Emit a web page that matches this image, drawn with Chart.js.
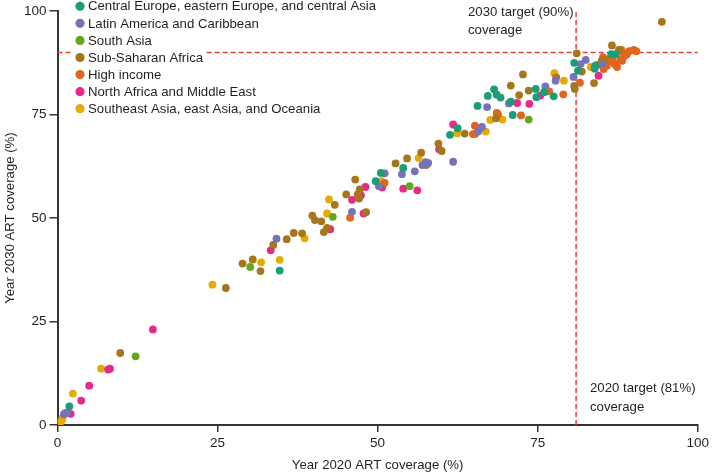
<!DOCTYPE html>
<html><head><meta charset="utf-8">
<script src="https://cdn.jsdelivr.net/npm/chart.js@4.4.1/dist/chart.umd.min.js"></script>
<style>html,body{margin:0;padding:0;background:#fff;} #wrap{width:712px;height:475px;position:relative;}</style>
</head><body><div id="wrap"><canvas id="c" width="712" height="475"></canvas></div>
<script>
const regionNames = [
  'Central Europe, eastern Europe, and central Asia',
  'Latin America and Caribbean',
  'South Asia',
  'Sub-Saharan Africa',
  'High income',
  'North Africa and Middle East',
  'Southeast Asia, east Asia, and Oceania'
];
const regionColors = ['#1b9e77', '#7773b8', '#66a61e', '#a6761d', '#e0651f', '#e7298a', '#e6ab02'];

const xTicks = [0, 25, 50, 75, 100];
const yTicks = [0, 25, 50, 75, 100];
const target2020 = 81;
const target2030 = 90;
const xTitle = 'Year 2020 ART coverage (%)';
const yTitle = 'Year 2030 ART coverage (%)';

const centralEurope = [[1.85,4.5],[34.7,37.3],[49.7,58.9],[50.5,60.9],[54.0,62.1],[61.3,70.1],[62.5,71.7],[65.6,77.1],[67.2,79.5],[68.2,81.1],[68.6,79.8],[69.2,79.1],[70.8,78.1],[71.1,74.9],[74.7,81.2],[74.8,79.2],[76.0,80.4],[77.5,79.4],[80.7,87.5],[81.3,85.6],[84.0,86.8],[83.9,86.1],[86.5,89.6],[87.2,89.6]];
const latinAmerica = [[1.0,2.6],[1.3,2.9],[1.5,3.0],[1.2,2.8],[34.2,45.0],[46.0,51.5],[51.1,60.8],[50.2,57.7],[53.8,60.6],[55.8,61.3],[57.0,62.8],[57.5,63.5],[57.9,63.3],[61.8,63.6],[65.7,70.9],[66.3,72.0],[67.1,76.8],[70.5,77.7],[76.2,81.8],[77.8,83.2],[80.6,84.1],[81.7,87.2],[82.5,88.2],[85.1,87.2]];
const southAsia = [[12.2,16.6],[30.1,38.2],[43.0,50.3],[55.0,57.7],[73.6,73.8]];
const subSaharan = [[9.8,17.4],[26.3,33.1],[28.9,39.0],[30.5,40.0],[31.7,37.2],[33.7,43.5],[35.8,44.9],[36.9,46.4],[38.2,46.3],[39.8,50.6],[40.2,49.5],[41.2,49.2],[41.6,46.6],[42.1,47.6],[43.3,53.2],[45.1,55.7],[46.5,59.3],[47.2,56.9],[46.9,55.7],[47.1,54.7],[48.2,51.4],[52.8,63.2],[54.6,64.4],[56.8,65.8],[57.6,62.8],[59.5,68.0],[60.0,66.2],[63.6,70.4],[68.5,74.1],[70.8,82.0],[72.1,79.7],[72.7,84.7],[73.6,80.8],[77.9,84.0],[80.7,81.9],[80.8,81.2],[81.1,89.8],[81.9,85.4],[83.8,82.6],[85.5,88.2],[85.0,88.0],[86.6,91.7],[87.7,90.6],[94.4,97.4]];
const highIncome = [[45.7,50.1],[51.1,58.5],[64.9,70.3],[65.2,70.3],[65.2,72.3],[68.6,75.4],[68.8,75.1],[72.4,74.8],[76.8,80.6],[79.0,79.9],[81.6,82.7],[84.3,87.0],[85.3,86.0],[85.2,88.9],[85.8,86.8],[86.0,87.8],[86.7,88.0],[87.0,87.2],[87.4,86.5],[86.2,88.5],[88.1,90.6],[88.4,89.7],[88.6,89.2],[88.2,88.0],[89.3,90.3],[90.4,90.3],[88.9,89.5],[87.9,88.2],[90.0,90.6]];
const northAfrica = [[14.9,23.1],[7.9,13.4],[8.2,13.6],[4.95,9.5],[3.7,5.9],[2.05,2.7],[33.3,42.2],[42.6,47.3],[46.0,54.4],[47.4,55.5],[48.1,57.5],[47.8,51.1],[50.7,57.4],[54.0,57.1],[56.2,56.7],[59.6,66.6],[61.8,72.6],[71.8,77.8],[73.7,77.6],[75.4,79.6],[84.5,84.4]];
const southeastAsia = [[0.7,1.2],[0.5,0.8],[0.8,1.7],[6.8,13.6],[2.4,7.6],[24.2,33.9],[31.8,39.3],[34.7,39.9],[38.6,45.1],[42.1,51.1],[42.4,54.5],[50.6,58.9],[56.4,64.5],[62.4,70.5],[66.9,70.9],[67.6,73.7],[69.5,73.8],[77.6,85.0],[79.1,83.2],[83.3,86.5]];

const seriesData = [centralEurope, latinAmerica, southAsia, subSaharan, highIncome, northAfrica, southeastAsia];

const FONT = '"Liberation Sans", Arial, sans-serif';
const TEXT = '#231f20';
const AXIS = '#333333';
const RED = '#e8413c';

const targetsPlugin = {
  id: 'targets',
  beforeDatasetsDraw(chart) {
    const { ctx, scales: { x, y } } = chart;
    ctx.save();
    ctx.strokeStyle = RED;
    ctx.lineWidth = 1.5;
    ctx.setLineDash([5, 3]);
    const yy = y.getPixelForValue(target2030);
    ctx.beginPath();
    ctx.moveTo(x.getPixelForValue(0), yy); ctx.lineTo(x.getPixelForValue(2.3), yy);
    ctx.moveTo(x.getPixelForValue(23.3), yy); ctx.lineTo(x.getPixelForValue(100), yy);
    ctx.stroke();
    const xx = x.getPixelForValue(target2020);
    ctx.beginPath();
    ctx.moveTo(xx, y.getPixelForValue(0)); ctx.lineTo(xx, y.getPixelForValue(100));
    ctx.stroke();
    ctx.setLineDash([]);
    ctx.fillStyle = TEXT;
    ctx.font = '13.2px ' + FONT;
    ctx.textBaseline = 'middle';
    ctx.textAlign = 'left';
    ctx.fillText('2030 target (90%)', 468, 12.5);
    ctx.fillText('coverage', 468, 30.5);
    ctx.fillText('2020 target (81%)', 590, 388);
    ctx.fillText('coverage', 590, 407.5);
    ctx.restore();
  }
};

const legendPlugin = {
  id: 'customLegend',
  afterDraw(chart) {
    const { ctx } = chart;
    ctx.save();
    ctx.font = '13.2px ' + FONT;
    ctx.textBaseline = 'middle';
    ctx.textAlign = 'left';
    chart.data.datasets.forEach((ds, i) => {
      const cy = 6.3 + i * 17.07;
      ctx.fillStyle = ds.backgroundColor;
      ctx.beginPath(); ctx.arc(80, cy, 4.6, 0, Math.PI * 2); ctx.fill();
      ctx.fillStyle = TEXT;
      ctx.fillText(ds.label, 88, cy + 0.5);
    });
    ctx.restore();
  }
};

new Chart(document.getElementById('c'), {
  type: 'scatter',
  data: {
    datasets: regionNames.map((name, i) => ({
      label: name,
      data: seriesData[i].map(p => ({ x: p[0], y: p[1] })),
      backgroundColor: regionColors[i],
      borderWidth: 0,
      pointRadius: 3.9,
      pointHoverRadius: 3.9
    }))
  },
  options: {
    responsive: false,
    animation: false,
    layout: { padding: { left: 0, right: 12, top: 6, bottom: 0 } },
    plugins: { legend: { display: false }, tooltip: { enabled: false } },
    scales: {
      x: {
        type: 'linear', min: 0, max: 100,
        afterBuildTicks: s => { s.ticks = xTicks.map(v => ({ value: v })); },
        afterFit: s => { s.height = 50; },
        grid: { drawOnChartArea: false, drawTicks: true, tickLength: 7, color: AXIS, lineWidth: 1.5 },
        border: { display: true, color: AXIS, width: 2 },
        ticks: { color: TEXT, font: { family: FONT, size: 13.5 }, padding: 3, maxRotation: 0 },
        title: { display: true, text: xTitle, color: TEXT, font: { family: FONT, size: 13.2 }, padding: { top: 0, bottom: 2 } }
      },
      y: {
        type: 'linear', min: 0, max: 100,
        afterBuildTicks: s => { s.ticks = yTicks.map(v => ({ value: v })); },
        afterFit: s => { s.width = 57.5; },
        grid: { drawOnChartArea: false, drawTicks: true, tickLength: 8, color: AXIS, lineWidth: 1.5 },
        border: { display: true, color: AXIS, width: 2 },
        ticks: { color: TEXT, font: { family: FONT, size: 13.5 }, padding: 3 },
        title: { display: true, text: yTitle, color: TEXT, font: { family: FONT, size: 13.2 }, padding: { top: 2, bottom: 0 } }
      }
    }
  },
  plugins: [targetsPlugin, legendPlugin]
});
</script>
</body></html>
